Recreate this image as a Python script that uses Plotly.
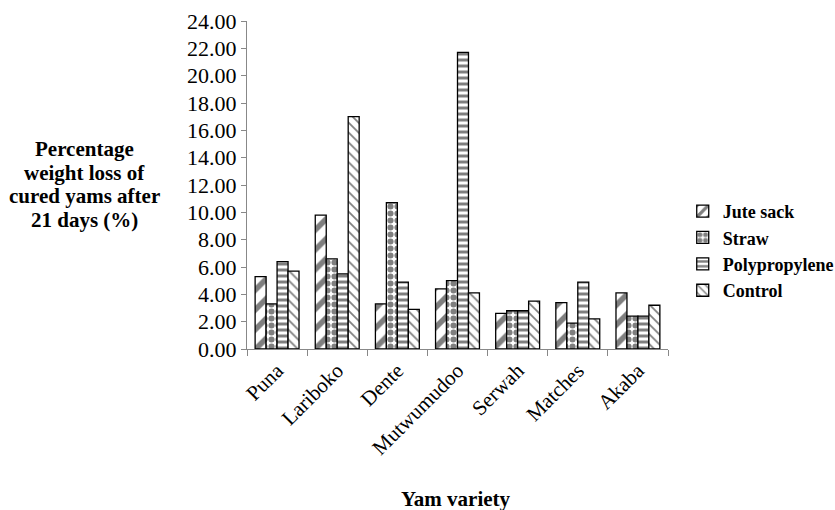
import plotly.graph_objects as go

varieties = ["Puna", "Lariboko", "Dente", "Mutwumudoo", "Serwah", "Matches", "Akaba"]
jute_sack = [5.3, 9.8, 3.3, 4.4, 2.6, 3.4, 4.1]
straw = [3.3, 6.6, 10.7, 5.0, 2.8, 1.9, 2.4]
polypropylene = [6.4, 5.5, 4.9, 21.7, 2.8, 4.9, 2.4]
control = [5.7, 17.0, 2.9, 4.1, 3.5, 2.2, 3.2]
y_ticks = [0, 2, 4, 6, 8, 10, 12, 14, 16, 18, 20, 22, 24]
y_title_lines = ["Percentage", "weight loss of", "cured yams after", "21 days (%)"]

FONT = "Liberation Serif, Times New Roman, serif"

series = [
    ("Jute sack", jute_sack, "/", 14, 0.4),
    ("Straw", straw, ".", 7, 0.6),
    ("Polypropylene", polypropylene, "-", 6, 0.5),
    ("Control", control, "\\", 7, 0.25),
]

fig = go.Figure()
for name, vals, shape, size, sol in series:
    fig.add_trace(go.Bar(
        name=name, x=varieties, y=vals,
        marker=dict(color="white", line=dict(color="black", width=1.3),
                    pattern=dict(shape=shape, fgcolor="black", bgcolor="white",
                                 size=size, solidity=sol)),
    ))

PLOT_TOP, PLOT_BOTTOM = 21, 349
def ypaper(px):
    return (PLOT_BOTTOM - px) / (PLOT_BOTTOM - PLOT_TOP)

annotations = []
for i, line in enumerate(y_title_lines):
    annotations.append(dict(
        text=f"<b>{line}</b>", xref="paper", yref="paper", x=-0.387,
        y=ypaper(149 + 23.5 * i), xanchor="center", yanchor="middle",
        showarrow=False, font=dict(family=FONT, size=21, color="black")))
annotations.append(dict(
    text="<b>Yam variety</b>", xref="paper", yref="paper", x=0.496, y=ypaper(499),
    xanchor="center", yanchor="middle", showarrow=False,
    font=dict(family=FONT, size=21, color="black")))

fig.update_layout(
    width=835, height=510,
    margin=dict(l=247, r=167, t=21, b=161, autoexpand=False),
    paper_bgcolor="white", plot_bgcolor="white",
    barmode="group", bargap=0.27, bargroupgap=0,
    font=dict(family=FONT, color="black", size=20),
    showlegend=True,
    legend=dict(x=1.035, y=0.476, xanchor="left", yanchor="top",
                font=dict(family=FONT, size=18, color="black", weight="bold"),
                tracegroupgap=0, bgcolor="rgba(0,0,0,0)"),
    xaxis=dict(showline=True, linecolor="#888888", linewidth=1, ticks="outside",
               tickson="boundaries", tickcolor="#888888", ticklen=6,
               tickangle=-45, tickfont=dict(family=FONT, size=21),
               showgrid=False, automargin=False),
    yaxis=dict(range=[0, 24], tickvals=y_ticks,
               ticktext=[f"{v:.2f}" for v in y_ticks],
               showline=True, linecolor="#888888", linewidth=1, ticks="outside",
               tickcolor="#888888", ticklen=5, showgrid=False, zeroline=False,
               tickfont=dict(family=FONT, size=22), automargin=False),
    annotations=annotations,
)

fig.write_html("out.html", config={"displayModeBar": False},
               post_script="document.body.style.margin='0';document.body.style.padding='0';")
